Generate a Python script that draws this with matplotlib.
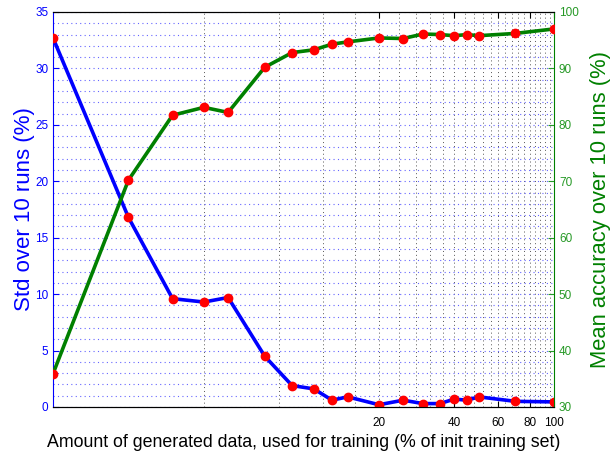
import matplotlib
matplotlib.use('Agg')
import matplotlib.pyplot as plt
from matplotlib.ticker import FixedLocator, NullFormatter, MultipleLocator

plt.rcParams['font.family'] = ['Liberation Sans', 'DejaVu Sans']

# amount of generated data (% of init training set)
amount = [1, 2, 3, 4, 5, 7, 9, 11, 13, 15, 20, 25, 30, 35, 40, 45, 50, 70, 100]
# std over 10 runs (%)
std_runs = [32.7, 16.8, 9.6, 9.3, 9.7, 4.5, 1.9, 1.6, 0.6, 0.9, 0.2, 0.6, 0.3,
            0.3, 0.7, 0.6, 0.9, 0.5, 0.45]
# mean accuracy over 10 runs (%)
mean_acc = [35.9, 70.2, 81.7, 83.1, 82.2, 90.2, 92.8, 93.3, 94.3, 94.7, 95.4,
            95.3, 96.1, 96.0, 95.8, 96.0, 95.8, 96.2, 97.0]

x_ticks = [20, 40, 60, 80, 100]
grid_x = list(range(4, 101, 4))

blue = (0, 0, 1)
green = (0, 0.5, 0)
red = (1, 0, 0)

fig = plt.figure(figsize=(6.13, 4.51), dpi=100)
ax = fig.add_axes([0.0865, 0.0976, 0.8173, 0.8758])
ax2 = ax.twinx()

ax.set_xscale('log')
ax.set_xlim(1, 100)
ax.set_ylim(0, 35)
ax2.set_ylim(30, 100)

# grids
ax.xaxis.set_major_locator(FixedLocator(x_ticks))
ax.xaxis.set_minor_locator(FixedLocator(grid_x))
ax.xaxis.set_major_formatter(matplotlib.ticker.FixedFormatter([str(t) for t in x_ticks]))
ax.xaxis.set_minor_formatter(NullFormatter())
ax.yaxis.set_major_locator(MultipleLocator(5))
ax.yaxis.set_minor_locator(MultipleLocator(1))
ax.grid(which='both', axis='x', color='#555555', linestyle=(0, (1, 3)), linewidth=0.7)
ax.grid(which='both', axis='y', color='#6666ff', linestyle=(0, (1, 3)), linewidth=0.8)

ax.plot(amount, std_runs, color=blue, linewidth=2.6, marker='o',
        markersize=6, markerfacecolor=red, markeredgecolor=red, zorder=3)
ax2.plot(amount, mean_acc, color=green, linewidth=2.6, marker='o',
         markersize=6, markerfacecolor=red, markeredgecolor=red, zorder=3)

ax.tick_params(axis='x', which='major', direction='in', length=4, top=True,
               labelsize=8.5, pad=7, colors='black')
ax.tick_params(axis='x', which='minor', length=0, top=False)
ax.tick_params(axis='y', which='major', direction='in', length=4,
               labelsize=8.5, colors=blue)
ax.tick_params(axis='y', which='minor', length=0)
ax2.set_yticks(range(30, 101, 10))
ax2.tick_params(axis='y', direction='in', length=4, labelsize=8.5,
                colors=(0.15, 0.6, 0.15))

ax.spines['left'].set_color(blue)
ax.spines['right'].set_visible(False)
ax2.spines['left'].set_visible(False)
ax2.spines['right'].set_color(green)
ax2.spines['top'].set_color('black')
ax2.spines['bottom'].set_color('black')

ax.set_xlabel('Amount of generated data, used for training (% of init training set)',
              fontsize=12.8, labelpad=4)
ax.set_ylabel('Std over 10 runs (%)', fontsize=16, color=blue, labelpad=0)
ax2.set_ylabel('Mean accuracy over 10 runs (%)', fontsize=15.8, color=green, labelpad=8)

fig.savefig('out.png', dpi=100)
